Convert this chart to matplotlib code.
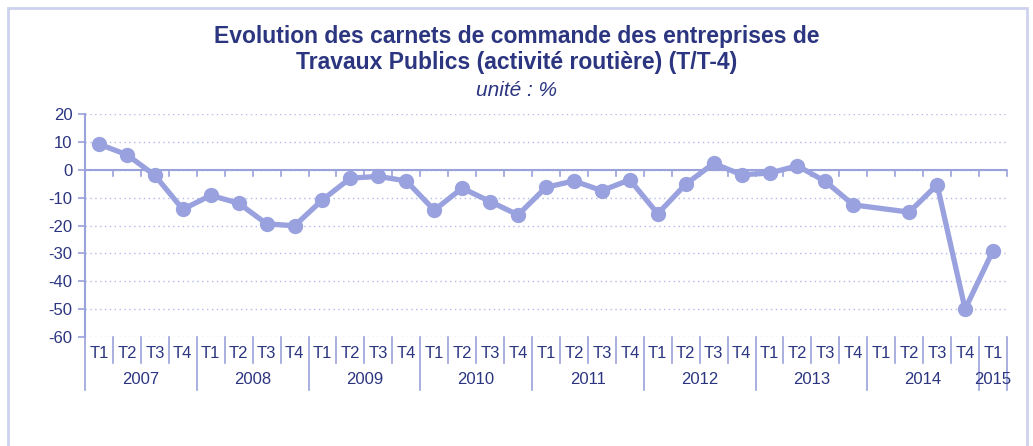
import numpy as np
import matplotlib.pyplot as plt
from matplotlib.patches import Rectangle

years = ['2007', '2008', '2009', '2010', '2011', '2012', '2013', '2014', '2015']
quarters = ['T1', 'T2', 'T3', 'T4']
# T/T-4 values, 2007 T1 .. 2015 T1 (2014 T1 missing)
values = [9.2, 5.4, -2.0, -14.2,
          -9.2, -12.0, -19.4, -20.1,
          -10.8, -3.0, -2.4, -4.0,
          -14.5, -6.6, -11.4, -16.2,
          -6.3, -4.0, -7.5, -3.6,
          -15.8, -5.2, 2.3, -1.8,
          -1.2, 1.4, -4.2, -12.6,
          np.nan, -15.2, -5.4, -50.0,
          -29.0]
yticks = [20, 10, 0, -10, -20, -30, -40, -50, -60]

line_col = '#99A1DE'
text_col = '#2B3580'
axis_col = '#9AA2DC'
grid_col = '#B4BAE6'

plt.rcParams['font.family'] = ['Liberation Sans', 'DejaVu Sans']

W, H = 1033, 446
fig = plt.figure(figsize=(W / 100, H / 100), dpi=100)

# figure border
fig.patches.append(Rectangle((8 / W, -0.05), 1019 / W, 1 - 8 / H + 0.05,
                             transform=fig.transFigure, fill=False,
                             edgecolor='#CDD2EE', linewidth=2))

ax = fig.add_axes([85 / W, 1 - 337 / H, 922 / W, 223 / H])

n = len(values)
labels = [q for y in years for q in quarters][:n]
x = np.arange(n)
v = np.array(values)
ok = ~np.isnan(v)
ax.plot(x[ok], v[ok], color=line_col, linewidth=3.8, marker='o',
        markersize=10, solid_joinstyle='round', zorder=3)

ax.set_xlim(-0.5, n - 0.5)
ax.set_ylim(-60, 20)
ax.set_yticks(yticks)
ax.set_yticklabels([str(t) for t in yticks], color=text_col, fontsize=12)
ax.tick_params(axis='y', length=5, color=axis_col, width=1.2, pad=4)
ax.yaxis.grid(True, linestyle=(0, (1, 2.5)), color=grid_col, linewidth=1)
ax.set_axisbelow(True)
for s in ['top', 'right', 'bottom']:
    ax.spines[s].set_visible(False)
ax.spines['left'].set_color(axis_col)
ax.spines['left'].set_linewidth(1.5)
ax.set_xticks([])

# zero axis with tick marks at category boundaries
ax.axhline(0, color=axis_col, linewidth=1.5, zorder=2)
for b in np.arange(-0.5, n, 1.0):
    ax.plot([b, b], [0, -2.2], color=axis_col, linewidth=1.2, zorder=2,
            clip_on=False)

# multi-level category labels
trans = ax.get_xaxis_transform()
px = 1 / 223.0
for i, lab in enumerate(labels):
    ax.text(i, -16 * px, lab, transform=trans, ha='center', va='center',
            color=text_col, fontsize=12)
for b in np.arange(0.5, n - 1, 1.0):
    if (b + 0.5) % 4 != 0:
        ax.plot([b, b], [0, -26 * px], transform=trans, color=axis_col,
                linewidth=1.2, clip_on=False)
for b in list(np.arange(-0.5, n, 4.0)) + [n - 0.5]:
    ax.plot([b, b], [0, -53 * px], transform=trans, color=axis_col,
            linewidth=1.2, clip_on=False)
for k, yr in enumerate(years):
    start = 4 * k
    end = min(4 * k + 3, n - 1)
    ax.text((start + end) / 2, -42 * px, yr, transform=trans, ha='center',
            va='center', color=text_col, fontsize=12)

fig.text(0.5, 1 - 36 / H, 'Evolution des carnets de commande des entreprises de',
         ha='center', va='center', color=text_col, fontsize=16.5,
         fontweight='bold')
fig.text(0.5, 1 - 62 / H, 'Travaux Publics (activité routière) (T/T-4)',
         ha='center', va='center', color=text_col, fontsize=16.5,
         fontweight='bold')
fig.text(0.5, 1 - 91 / H, 'unité : %', ha='center', va='center',
         color=text_col, fontsize=15, style='italic')

fig.savefig('out.png', dpi=100)
